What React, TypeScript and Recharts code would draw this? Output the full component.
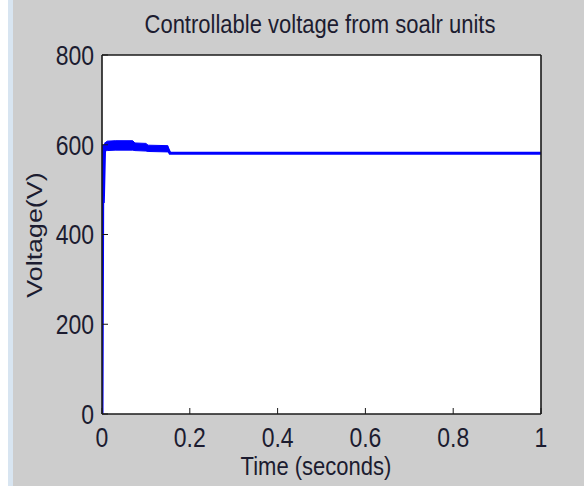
import React from 'react';
import {
  Area,
  CartesianGrid,
  ComposedChart,
  Line,
  XAxis,
  YAxis,
} from 'recharts';

// main trace (seconds, volts)
const lineTime = [0, 0.002, 0.003, 0.006, 0.01, 0.07, 0.075, 0.1, 0.105, 0.15, 0.155, 1];
const lineVolt = [0, 600, 470, 597, 597, 598, 595, 593, 591, 590, 581, 581];

// ripple band at start-up
const bandTime = [0.005, 0.012, 0.03, 0.07, 0.075, 0.1, 0.105, 0.15, 0.155];
const bandLow = [586, 587, 588, 588, 587, 586, 585, 584, 580];
const bandHigh = [603, 608, 609, 609, 604, 603, 599, 598, 582];

const xTicks = [0, 0.2, 0.4, 0.6, 0.8, 1];
const yTicks = [0, 200, 400, 600, 800];

const lineRows = lineTime.map((t, i) => ({ t, v: lineVolt[i] }));
const bandRows = bandTime.map((t, i) => ({ t, band: [bandLow[i], bandHigh[i]] }));

const FONT = 'Arial, "Liberation Sans", sans-serif';
const TEXT = '#1c1c30';
const BLUE = '#0000ff';
const AXIS = '#1a1a1a';
const TICK_LEN = 6;

// tickSize 0 everywhere: tick props x/y sit tickMargin away from the axis line
function BottomTick(props: any) {
  const { x, y, payload } = props;
  const axisY = y - 13;
  return (
    <g>
      <line x1={x} x2={x} y1={axisY} y2={axisY - TICK_LEN} stroke={AXIS} />
      <g transform={`translate(${x},${y}) scale(1,1.18)`}>
        <text x={0} y={0} dy="0.72em" textAnchor="middle" fontSize={23} fontFamily={FONT} fill={TEXT}>
          {payload.value}
        </text>
      </g>
    </g>
  );
}

function LeftTick(props: any) {
  const { x, y, payload } = props;
  const axisX = x + 8;
  return (
    <g>
      <line x1={axisX} x2={axisX + TICK_LEN} y1={y} y2={y} stroke={AXIS} />
      <g transform={`translate(${x},${y}) scale(1,1.18)`}>
        <text x={0} y={0} dy="0.36em" textAnchor="end" fontSize={23} fontFamily={FONT} fill={TEXT}>
          {payload.value}
        </text>
      </g>
    </g>
  );
}

function TopTick(props: any) {
  const { x, y } = props;
  return <line x1={x} x2={x} y1={y} y2={y + TICK_LEN} stroke={AXIS} />;
}

function RightTick(props: any) {
  const { x, y } = props;
  return <line x1={x} x2={x - TICK_LEN} y1={y} y2={y} stroke={AXIS} />;
}

export default function App() {
  return (
    <div style={{ position: 'absolute', left: 0, top: 0, width: 584, height: 486, background: '#fff', fontFamily: FONT }}>
      <div style={{ position: 'absolute', left: 8, top: 0, width: 5, height: 486, background: '#d8e5f1' }} />
      <div style={{ position: 'absolute', left: 13, top: 0, width: 571, height: 486, background: '#cdcdcd' }} />

      <div style={{ position: 'absolute', top: 0, left: 0 }}>
        <ComposedChart width={584} height={486} margin={{ top: 0, right: 0, bottom: 0, left: 0 }}>
          <CartesianGrid horizontal={false} vertical={false} fill="#fff" />
          <XAxis
            dataKey="t"
            type="number"
            domain={[0, 1]}
            ticks={xTicks}
            height={72}
            tickSize={0}
            tickMargin={13}
            tick={<BottomTick />}
            tickLine={false}
            axisLine={{ stroke: AXIS, strokeWidth: 1.6 }}
            allowDataOverflow
          />
          <XAxis
            xAxisId="top"
            orientation="top"
            type="number"
            domain={[0, 1]}
            ticks={xTicks}
            height={55}
            tickSize={0}
            tickMargin={0}
            tick={<TopTick />}
            tickLine={false}
            axisLine={{ stroke: AXIS, strokeWidth: 1.6 }}
          />
          <YAxis
            type="number"
            domain={[0, 800]}
            ticks={yTicks}
            width={102}
            tickSize={0}
            tickMargin={8}
            tick={<LeftTick />}
            tickLine={false}
            axisLine={{ stroke: AXIS, strokeWidth: 1.6 }}
            allowDataOverflow
          />
          <YAxis
            yAxisId="right"
            orientation="right"
            type="number"
            domain={[0, 800]}
            ticks={yTicks}
            width={43}
            tickSize={0}
            tickMargin={0}
            tick={<RightTick />}
            tickLine={false}
            axisLine={{ stroke: AXIS, strokeWidth: 1.6 }}
          />
          <Area
            data={bandRows}
            dataKey="band"
            type="linear"
            stroke={BLUE}
            strokeWidth={1}
            fill={BLUE}
            fillOpacity={1}
            isAnimationActive={false}
          />
          <Line
            data={lineRows}
            dataKey="v"
            type="linear"
            stroke={BLUE}
            strokeWidth={3}
            dot={false}
            isAnimationActive={false}
          />
        </ComposedChart>
      </div>

      <div
        style={{
          position: 'absolute',
          left: 0,
          width: 640,
          top: 12,
          textAlign: 'center',
          fontSize: 22,
          lineHeight: '26px',
          color: TEXT,
          transform: 'scaleY(1.2)',
          whiteSpace: 'nowrap',
        }}
      >
        Controllable voltage from soalr units
      </div>
      <div
        style={{
          position: 'absolute',
          left: 0,
          width: 632,
          top: 454,
          textAlign: 'center',
          fontSize: 22,
          lineHeight: '26px',
          color: TEXT,
          transform: 'scaleY(1.2)',
          whiteSpace: 'nowrap',
        }}
      >
        Time (seconds)
      </div>
      <div
        style={{
          position: 'absolute',
          left: 35 - 80,
          top: 235 - 13,
          width: 160,
          textAlign: 'center',
          fontSize: 22,
          lineHeight: '26px',
          color: TEXT,
          transform: 'rotate(-90deg) scaleX(1.22)',
          whiteSpace: 'nowrap',
        }}
      >
        Voltage(V)
      </div>
    </div>
  );
}
